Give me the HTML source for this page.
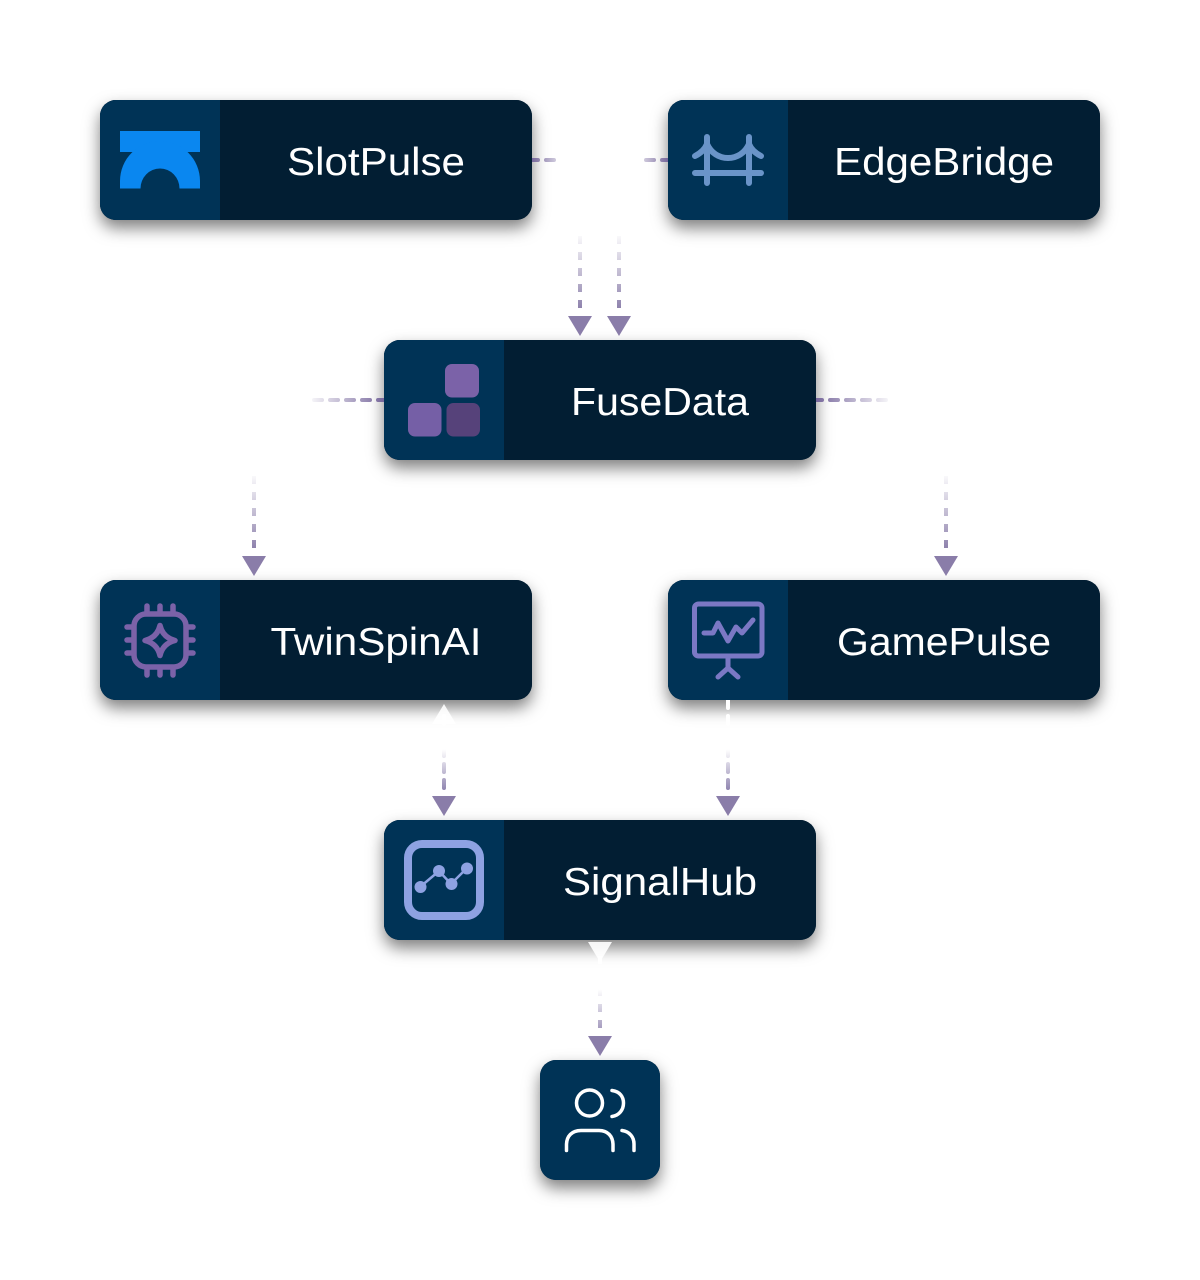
<!DOCTYPE html>
<html>
<head>
<meta charset="utf-8">
<style>
html,body{margin:0;padding:0;background:#fff;width:1200px;height:1280px;overflow:hidden}
svg{display:block}
text{font-family:"Liberation Sans",sans-serif;font-size:39px;fill:#fff;text-anchor:middle}
</style>
</head>
<body>
<svg width="1200" height="1280" viewBox="0 0 1200 1280" xmlns="http://www.w3.org/2000/svg">
<defs>
<filter id="sh" x="-20%" y="-40%" width="140%" height="190%"><feDropShadow dx="0" dy="8" stdDeviation="8" flood-color="#000" flood-opacity=".5"/></filter>
<linearGradient id="h1" gradientUnits="userSpaceOnUse" x1="530" y1="0" x2="558" y2="0"><stop offset="0" stop-color="#76669c"/><stop offset="1" stop-color="#76669c" stop-opacity=".3"/></linearGradient>
<linearGradient id="h2" gradientUnits="userSpaceOnUse" x1="670" y1="0" x2="642" y2="0"><stop offset="0" stop-color="#76669c"/><stop offset="1" stop-color="#76669c" stop-opacity=".3"/></linearGradient>
<linearGradient id="h3" gradientUnits="userSpaceOnUse" x1="386" y1="0" x2="310" y2="0"><stop offset="0" stop-color="#76669c"/><stop offset="1" stop-color="#76669c" stop-opacity=".05"/></linearGradient>
<linearGradient id="h4" gradientUnits="userSpaceOnUse" x1="814" y1="0" x2="890" y2="0"><stop offset="0" stop-color="#76669c"/><stop offset="1" stop-color="#76669c" stop-opacity=".05"/></linearGradient>
<linearGradient id="v1" gradientUnits="userSpaceOnUse" x1="0" y1="236" x2="0" y2="308"><stop offset="0" stop-color="#8f83ad" stop-opacity=".05"/><stop offset="1" stop-color="#8f83ad"/></linearGradient>
<linearGradient id="v2" gradientUnits="userSpaceOnUse" x1="0" y1="476" x2="0" y2="548"><stop offset="0" stop-color="#8f83ad" stop-opacity=".05"/><stop offset="1" stop-color="#8f83ad"/></linearGradient>
<linearGradient id="v3" gradientUnits="userSpaceOnUse" x1="0" y1="700" x2="0" y2="790"><stop offset="0" stop-color="#fff"/><stop offset=".55" stop-color="#fff"/><stop offset="1" stop-color="#9085b0"/></linearGradient>
<linearGradient id="v4" gradientUnits="userSpaceOnUse" x1="0" y1="940" x2="0" y2="1030"><stop offset="0" stop-color="#fff"/><stop offset=".55" stop-color="#fff"/><stop offset="1" stop-color="#a399bd"/></linearGradient>
</defs>

<!-- shadows -->
<g filter="url(#sh)" fill="#021e33">
<rect x="100" y="100" width="432" height="120" rx="16"/>
<rect x="668" y="100" width="432" height="120" rx="16"/>
<rect x="384" y="340" width="432" height="120" rx="16"/>
<rect x="100" y="580" width="432" height="120" rx="16"/>
<rect x="668" y="580" width="432" height="120" rx="16"/>
<rect x="384" y="820" width="432" height="120" rx="16"/>
<rect x="540" y="1060" width="120" height="120" rx="16"/>
</g>

<!-- connectors -->
<g fill="none" stroke-width="4">
<path d="M530 160H556" stroke="url(#h1)" stroke-dasharray="8 8" stroke-linecap="round"/>
<path d="M670 160H644" stroke="url(#h2)" stroke-dasharray="8 8" stroke-linecap="round"/>
<path d="M386 400H312" stroke="url(#h3)" stroke-dasharray="8 8" stroke-linecap="round"/>
<path d="M814 400H888" stroke="url(#h4)" stroke-dasharray="8 8" stroke-linecap="round"/>
<path d="M580 236V316" stroke="url(#v1)" stroke-dasharray="8 8"/>
<path d="M619 236V316" stroke="url(#v1)" stroke-dasharray="8 8"/>
<path d="M254 476V556" stroke="url(#v2)" stroke-dasharray="8 8"/>
<path d="M946 476V556" stroke="url(#v2)" stroke-dasharray="8 8"/>
<path d="M444 716V792" stroke="url(#v3)" stroke-dasharray="8 8" stroke-linecap="round"/>
<path d="M728 700V792" stroke="url(#v3)" stroke-dasharray="8 8" stroke-linecap="round"/>
<path d="M600 956V1032" stroke="url(#v4)" stroke-dasharray="8 8"/>
</g>
<g fill="#8a7da9">
<path d="M568 316H592L580 336Z"/>
<path d="M607 316H631L619 336Z"/>
<path d="M242 556H266L254 576Z"/>
<path d="M934 556H958L946 576Z"/>
<path d="M432 796H456L444 816Z"/>
<path d="M716 796H740L728 816Z"/>
<path d="M588 1036H612L600 1056Z"/>
</g>
<g fill="#fff" fill-opacity=".9">
<path d="M432 724H456L444 704Z"/>
<path d="M588 942H612L600 962Z"/>
</g>

<!-- nodes -->
<g fill="#021e33">
<rect x="100" y="100" width="432" height="120" rx="16"/>
<rect x="668" y="100" width="432" height="120" rx="16"/>
<rect x="384" y="340" width="432" height="120" rx="16"/>
<rect x="100" y="580" width="432" height="120" rx="16"/>
<rect x="668" y="580" width="432" height="120" rx="16"/>
<rect x="384" y="820" width="432" height="120" rx="16"/>
</g>
<g fill="#003356">
<path d="M220 100H116a16 16 0 0 0-16 16v88a16 16 0 0 0 16 16H220Z"/>
<path d="M788 100H684a16 16 0 0 0-16 16v88a16 16 0 0 0 16 16H788Z"/>
<path d="M504 340H400a16 16 0 0 0-16 16v88a16 16 0 0 0 16 16H504Z"/>
<path d="M220 580H116a16 16 0 0 0-16 16v88a16 16 0 0 0 16 16H220Z"/>
<path d="M788 580H684a16 16 0 0 0-16 16v88a16 16 0 0 0 16 16H788Z"/>
<path d="M504 820H400a16 16 0 0 0-16 16v88a16 16 0 0 0 16 16H504Z"/>
<rect x="540" y="1060" width="120" height="120" rx="16"/>
</g>

<!-- labels -->
<text x="376" y="175" textLength="178" lengthAdjust="spacingAndGlyphs">SlotPulse</text>
<text x="944" y="175" textLength="220" lengthAdjust="spacingAndGlyphs">EdgeBridge</text>
<text x="660" y="415" textLength="178" lengthAdjust="spacingAndGlyphs">FuseData</text>
<text x="376" y="655" textLength="211" lengthAdjust="spacingAndGlyphs">TwinSpinAI</text>
<text x="944" y="655" textLength="214" lengthAdjust="spacingAndGlyphs">GamePulse</text>
<text x="660" y="895" textLength="194" lengthAdjust="spacingAndGlyphs">SignalHub</text>

<!-- SlotPulse icon -->
<g fill="#0a87f0">
<rect x="120" y="131" width="80" height="21"/>
<path d="M120 188.500V181A40 40 0 0 1 200 181V188.500H179.500A19.500 20 0 0 0 140.500 188.500Z"/>
</g>

<!-- Bridge icon -->
<g fill="none" stroke="#6a94c8" stroke-width="6" stroke-linecap="round" stroke-linejoin="round">
<path d="M707 137V183M749 137V183M695 173H761"/>
<path d="M695 156C701 153 705 149 707 144C711 153 719 158 728 158C737 158 745 153 749 144C751 149 755 153 761 156"/>
</g>

<!-- Blocks icon -->
<rect x="445" y="364" width="34" height="33.500" rx="7" fill="#7b62a8"/>
<rect x="408" y="403" width="33.500" height="33.500" rx="7" fill="#755fa6"/>
<rect x="446.500" y="403" width="33.500" height="33.500" rx="7" fill="#56427a"/>

<!-- Chip icon -->
<g fill="none" stroke="#7b62a8" stroke-width="5.500" stroke-linecap="round" stroke-linejoin="round">
<rect x="134" y="614" width="52" height="53" rx="12"/>
<path d="M147 606V613M160 606V613M173 606V613M147 668V675M160 668V675M173 668V675M127 627H133M127 640H133M127 653H133M187 627H193M187 640H193M187 653H193"/>
<path d="M160 625.500C162 634 167 638.500 175 640.500C167 642.500 162 647 160 655.500C158 647 153 642.500 145 640.500C153 638.500 158 634 160 625.500Z"/>
</g>

<!-- Presentation icon -->
<g fill="none" stroke="#7b78c4" stroke-width="5" stroke-linecap="round" stroke-linejoin="round">
<rect x="694.500" y="604" width="67.500" height="52" rx="4"/>
<path d="M728 657V668M718 677L728 668L738 677"/>
<path d="M704 633H713L718 623L728 641L736 627L742 633L753 620"/>
</g>

<!-- Chart icon -->
<g fill="#8ea2e2">
<rect x="408" y="844" width="72" height="72" rx="14" fill="none" stroke="#8ea2e2" stroke-width="8"/>
<path d="M420 887L439 871L451 884L467 868" fill="none" stroke="#8ea2e2" stroke-width="2.500"/>
<circle cx="420.500" cy="887" r="6"/>
<circle cx="439" cy="871" r="6"/>
<circle cx="451.500" cy="884" r="6"/>
<circle cx="467" cy="868.500" r="6"/>
</g>

<!-- Users icon -->
<g fill="none" stroke="#fff" stroke-width="3.500" stroke-linecap="round">
<circle cx="589.500" cy="1103" r="13"/>
<path d="M612 1090.500C620 1091.500 623.500 1097 623.500 1103C623.500 1110 619 1115.500 612 1116.500"/>
<path d="M566.500 1150.500V1145C566.500 1136 572 1130.500 581 1130.500H599C607.500 1130.500 613 1136 613 1145V1150.500"/>
<path d="M622 1130.500C629.500 1131.500 634 1137 634 1144V1150.500"/>
</g>
</svg>
</body>
</html>
